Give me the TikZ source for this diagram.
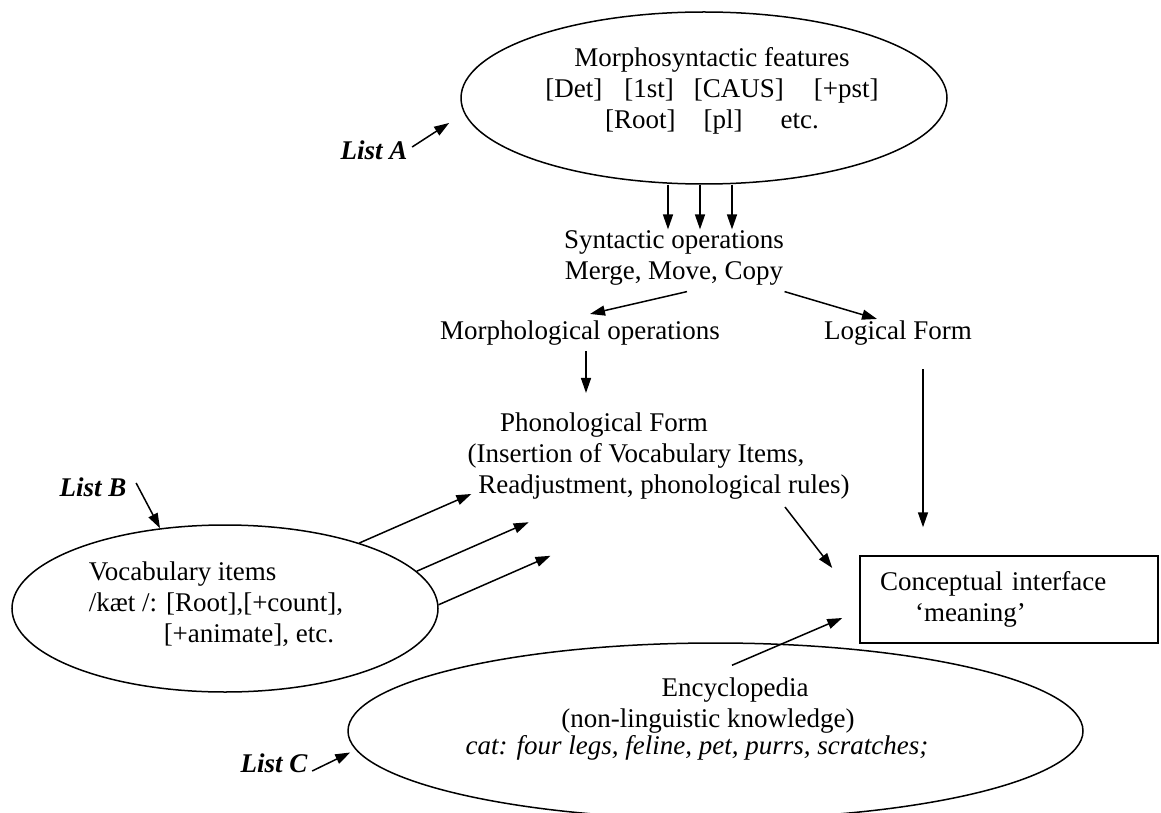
\documentclass[tikz,border=0pt]{standalone}
\usepackage{fontspec}
\setmainfont{Liberation Serif}
\usetikzlibrary{positioning, arrows.meta, shapes.geometric}

\begin{document}
\begin{tikzpicture}[x=1pt, y=-1pt, line width=1.5pt,
        font=\fontsize{27}{31}\selectfont,
        arr/.style={-{Triangle[length=15pt,width=10pt]}},
        oval/.style={draw, ellipse, inner sep=0pt},
        listlbl/.style={font=\fontsize{27}{31}\selectfont\bfseries\itshape, inner sep=0pt},
        txt/.style={inner sep=0pt}]
    \useasboundingbox (0,0) rectangle (1161,813);

    % List A: morphosyntactic features
    \node[oval, minimum width=486pt, minimum height=172pt] (feat) at (704,98) {};
    \node[txt, align=center] (feattxt) at (712,91) {Morphosyntactic features\\{}[Det]\hspace{22pt}[1st]\hspace{20pt}[CAUS]\hspace{30pt}[+pst]\\{}[Root]\hspace{28pt}[pl]\hspace{38pt}etc.};
    \node[listlbl] (lista) at (374,150) {List A};

    % derivation
    \node[txt, align=center] (syn) at (674,257.5) {Syntactic operations\\Merge, Move, Copy};
    \node[txt] (morph) at (580,333) {Morphological operations};
    \node[txt] (lf) at (898,333) {Logical Form};
    \node[txt, align=center] (phon) at (604,456) {Phonological Form\\\hspace*{64pt}(Insertion of Vocabulary Items,\\\hspace*{120pt}Readjustment, phonological rules)};
    \node[draw, minimum width=298pt, minimum height=87pt, text width=258pt, align=left] (ci) at (1009,599.5) {Conceptual interface\\\hspace*{35pt}`meaning'};

    % List B: vocabulary items
    \node[oval, minimum width=426pt, minimum height=167pt] (vocab) at (225,608.5) {};
    \node[txt, align=left, anchor=west] (vocabtxt) at (88,604) {Vocabulary items\\/kæt /: [Root],[+count],\\\hspace*{75pt}[+animate], etc.};
    \node[listlbl] (listb) at (93,487) {List B};

    % List C: encyclopedia
    \node[oval, minimum width=735pt, minimum height=176pt] (ency) at (715.5,731) {};
    \node[txt, align=center] (encytxt) at (697,719) {\hspace*{76pt}Encyclopedia\\\hspace*{22pt}(non-linguistic knowledge)\\[-4pt]\textit{cat: four legs, feline, pet, purrs, scratches;}};
    \node[listlbl] (listc) at (274,763) {List C};

    % arrows
    \draw[arr] ([xshift=4pt,yshift=3pt]lista.east) -- ++(37,-24);
    \draw[arr] ([xshift=9pt,yshift=4pt]listb.east) -- (vocab.129);
    \draw[arr, shorten >=6pt] ([xshift=4pt,yshift=-8pt]listc.east) -- (ency.183);
    \foreach \dx in {-36,-4,28}
        \draw[arr] ([xshift=\dx pt]feat.south) -- ([xshift=\dx pt]feat.south |- syn.north);
    \draw[arr] ([xshift=13pt,yshift=-6pt]syn.south) -- ([xshift=10pt,yshift=6pt]morph.north);
    \draw[arr] ([yshift=-6pt]syn.south east) -- ([xshift=-21pt,yshift=1pt]lf.north);
    \draw[arr, shorten <=5pt, shorten >=19pt] ([xshift=6pt]morph.south) -- ([xshift=6pt]morph.south |- phon.north);
    \draw[arr] ([xshift=25pt,yshift=-23pt]lf.south) -- ([xshift=25pt,yshift=28pt]lf.south |- ci.north);
    \foreach \a in {26,11,1}
        \draw[arr] (vocab.\a) -- ++(112,-49);
    \draw[arr] ([xshift=181pt,yshift=-7pt]phon.south) -- ([xshift=-27pt,yshift=31.5pt]ci.west);
    \draw[arr] ([xshift=16.5pt,yshift=-23pt]ency.north) -- ([xshift=-17pt,yshift=-18.5pt]ci.west);
\end{tikzpicture}
\end{document}
